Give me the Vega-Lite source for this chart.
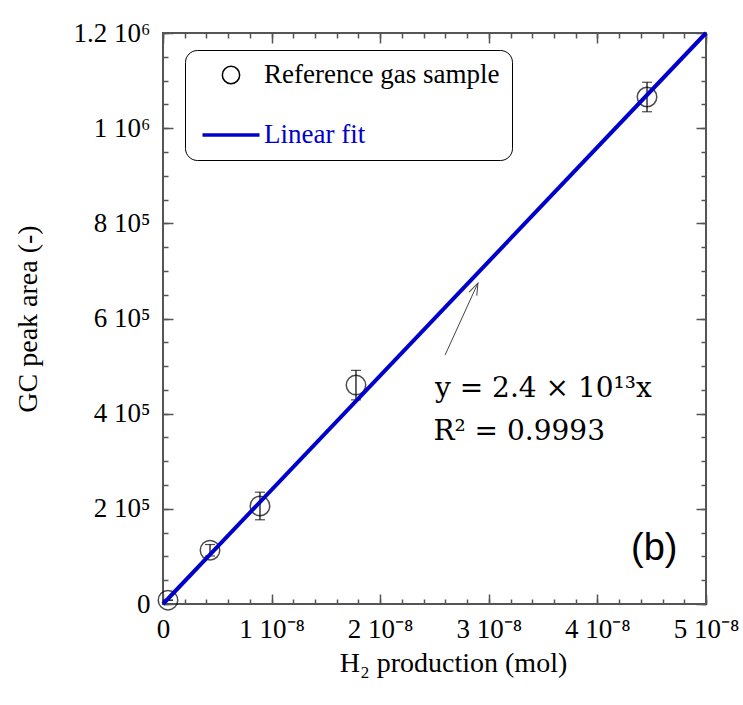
{
  "$schema": "https://vega.github.io/schema/vega-lite/v6.json",
  "width": 543,
  "height": 571,
  "autosize": {"type": "none"},
  "padding": {"left": 163, "top": 33, "right": 37, "bottom": 101},
  "background": "white",
  "config": {
    "view": {"stroke": "#555555", "strokeWidth": 2},
    "axis": {"grid": false, "domain": false, "tickColor": "#555555", "tickWidth": 1.5, "labelColor": "black", "titleColor": "black", "labelFont": "Liberation Serif", "titleFont": "Liberation Serif", "titleFontWeight": "normal"},
    "legend": {
      "orient": "none",
      "legendX": 22,
      "legendY": 17,
      "fillColor": "white",
      "strokeColor": "black",
      "cornerRadius": 12,
      "padding": 12,
      "clipHeight": 26,
      "rowPadding": 33,
      "labelFont": "Liberation Serif",
      "labelFontSize": 27,
      "labelLimit": 400,
      "labelOffset": 4,
      "symbolOffset": 3
    }
  },
  "datasets": {
    "pts": [
      {"h2": 4.6e-10, "area": 8000, "lo": 8000, "hi": 8000},
      {"h2": 4.33e-9, "area": 113000, "lo": 101000, "hi": 125000},
      {"h2": 8.93e-9, "area": 206000, "lo": 177000, "hi": 235000},
      {"h2": 1.777e-8, "area": 460000, "lo": 429000, "hi": 491000},
      {"h2": 4.457e-8, "area": 1065500, "lo": 1034500, "hi": 1096500}
    ],
    "fit": [
      {"h2": 0, "area": 0},
      {"h2": 5e-8, "area": 1200000}
    ],
    "arrow": [
      {"h2": 2.597e-8, "area": 523000},
      {"h2": 2.9e-8, "area": 674600}
    ],
    "tip": [
      {"h2": 2.9e-8, "area": 674600}
    ],
    "eq": [
      {"h2": 2.505e-8, "area": 435000, "label": "y = 2.4 × 10¹³x"},
      {"h2": 2.49e-8, "area": 344600, "label": "R² = 0.9993"}
    ],
    "tag": [
      {"h2": 4.31e-8, "area": 92500, "label": "(b)"}
    ]
  },
  "resolve": {"axis": {"x": "independent", "y": "independent"}},
  "layer": [
    {
      "data": {"name": "pts"},
      "mark": {"type": "rule", "color": "black", "strokeWidth": 1.2},
      "encoding": {
        "x": {"field": "h2", "type": "quantitative", "scale": {"domain": [0, 5e-8], "nice": false}, "axis": {"orient": "bottom", "values": [0, 1e-8, 2e-8, 3e-8, 4e-8, 5e-8], "tickSize": -10, "labelExpr": "datum.value == 0 ? '0' : round(datum.value * 100000000) + ' 10⁻⁸'", "labelFontSize": 27, "labelPadding": 22, "title": "H₂ production (mol)", "titleFontSize": 28, "titlePadding": 7, "titleX": 290, "labelFlush": false, "labelOverlap": false}},
        "y": {"field": "lo", "type": "quantitative", "scale": {"domain": [0, 1200000], "nice": false}, "axis": {"orient": "left", "values": [0, 200000, 400000, 600000, 800000, 1000000, 1200000], "tickSize": -10, "labelExpr": "datum.value == 0 ? '0' : datum.value >= 1000000 ? (datum.value / 1000000) + ' 10⁶' : (datum.value / 100000) + ' 10⁵'", "labelFontSize": 27, "labelPadding": 23, "title": "GC peak area (-)", "titleFontSize": 28, "titlePadding": 31, "labelFlush": false, "labelOverlap": false}},
        "y2": {"field": "hi"}
      }
    },
    {
      "data": {"name": "pts"},
      "mark": {"type": "tick", "orient": "horizontal", "color": "black", "size": 10, "thickness": 1.2},
      "encoding": {
        "x": {"field": "h2", "type": "quantitative", "axis": {"orient": "bottom", "values": [0, 2e-9, 4e-9, 6e-9, 8e-9, 1e-8, 1.2e-8, 1.4e-8, 1.6e-8, 1.8e-8, 2e-8, 2.2e-8, 2.4e-8, 2.6e-8, 2.8e-8, 3e-8, 3.2e-8, 3.4e-8, 3.6e-8, 3.8e-8, 4e-8, 4.2e-8, 4.4e-8, 4.6e-8, 4.8e-8, 5e-8], "tickSize": -5, "labels": false, "title": null}},
        "y": {"field": "lo", "type": "quantitative", "axis": {"orient": "left", "values": [0, 50000, 100000, 150000, 200000, 250000, 300000, 350000, 400000, 450000, 500000, 550000, 600000, 650000, 700000, 750000, 800000, 850000, 900000, 950000, 1000000, 1050000, 1100000, 1150000, 1200000], "tickSize": -5, "labels": false, "title": null}}
      }
    },
    {
      "data": {"name": "pts"},
      "mark": {"type": "tick", "orient": "horizontal", "color": "black", "size": 10, "thickness": 1.2},
      "encoding": {
        "x": {"field": "h2", "type": "quantitative", "axis": {"orient": "top", "values": [0, 1e-8, 2e-8, 3e-8, 4e-8, 5e-8], "tickSize": -10, "labels": false, "title": null}},
        "y": {"field": "hi", "type": "quantitative", "axis": {"orient": "right", "values": [0, 200000, 400000, 600000, 800000, 1000000, 1200000], "tickSize": -10, "labels": false, "title": null}}
      }
    },
    {
      "data": {"name": "pts"},
      "mark": {"type": "point", "shape": "circle", "filled": false, "size": 380, "strokeWidth": 1.5},
      "encoding": {
        "x": {"field": "h2", "type": "quantitative", "axis": {"orient": "top", "values": [0, 2e-9, 4e-9, 6e-9, 8e-9, 1e-8, 1.2e-8, 1.4e-8, 1.6e-8, 1.8e-8, 2e-8, 2.2e-8, 2.4e-8, 2.6e-8, 2.8e-8, 3e-8, 3.2e-8, 3.4e-8, 3.6e-8, 3.8e-8, 4e-8, 4.2e-8, 4.4e-8, 4.6e-8, 4.8e-8, 5e-8], "tickSize": -5, "labels": false, "title": null}},
        "y": {"field": "area", "type": "quantitative", "axis": {"orient": "right", "values": [0, 50000, 100000, 150000, 200000, 250000, 300000, 350000, 400000, 450000, 500000, 550000, 600000, 650000, 700000, 750000, 800000, 850000, 900000, 950000, 1000000, 1050000, 1100000, 1150000, 1200000], "tickSize": -5, "labels": false, "title": null}},
        "color": {
          "datum": "Reference gas sample",
          "scale": {"domain": ["Reference gas sample", "Linear fit"], "range": ["black", "#0000cc"]},
          "legend": {
            "title": null,
            "encode": {
              "symbols": {"update": {
                "x": {"value": 34},
                "shape": {"signal": "datum.value === 'Linear fit' ? 'stroke' : 'circle'"},
                "size": {"signal": "datum.value === 'Linear fit' ? 3249 : 300"},
                "stroke": {"signal": "datum.value === 'Linear fit' ? '#0000cc' : 'black'"},
                "strokeWidth": {"signal": "datum.value === 'Linear fit' ? 3.5 : 1.5"},
                "fill": {"value": "transparent"},
                "opacity": {"value": 1}
              }},
              "labels": {"update": {
                "x": {"value": 67},
                "fill": {"signal": "datum.value === 'Linear fit' ? '#0000cc' : 'black'"}
              }}
            }
          }
        }
      }
    },
    {
      "data": {"name": "fit"},
      "mark": {"type": "line", "strokeWidth": 4},
      "encoding": {
        "x": {"field": "h2", "type": "quantitative", "axis": null},
        "y": {"field": "area", "type": "quantitative", "axis": null},
        "color": {
          "datum": "Linear fit",
          "legend": {
            "title": null,
            "encode": {
              "symbols": {"update": {
                "x": {"value": 34},
                "shape": {"signal": "datum.value === 'Linear fit' ? 'stroke' : 'circle'"},
                "size": {"signal": "datum.value === 'Linear fit' ? 3249 : 300"},
                "stroke": {"signal": "datum.value === 'Linear fit' ? '#0000cc' : 'black'"},
                "strokeWidth": {"signal": "datum.value === 'Linear fit' ? 3.5 : 1.5"},
                "fill": {"value": "transparent"},
                "opacity": {"value": 1}
              }},
              "labels": {"update": {
                "x": {"value": 67},
                "fill": {"signal": "datum.value === 'Linear fit' ? '#0000cc' : 'black'"}
              }}
            }
          }
        }
      }
    },
    {
      "data": {"name": "arrow"},
      "mark": {"type": "line", "color": "#444444", "strokeWidth": 1},
      "encoding": {
        "x": {"field": "h2", "type": "quantitative", "axis": null},
        "y": {"field": "area", "type": "quantitative", "axis": null}
      }
    },
    {
      "data": {"name": "tip"},
      "mark": {"type": "point", "shape": "M -0.35 1 L 0 0 L 0.35 1", "filled": false, "size": 576, "angle": 24.6, "color": "#444444", "strokeWidth": 1, "opacity": 1},
      "encoding": {
        "x": {"field": "h2", "type": "quantitative", "axis": null},
        "y": {"field": "area", "type": "quantitative", "axis": null}
      }
    },
    {
      "data": {"name": "eq"},
      "mark": {"type": "text", "font": "DejaVu Serif", "fontSize": 28, "align": "left", "baseline": "alphabetic", "color": "black"},
      "encoding": {
        "x": {"field": "h2", "type": "quantitative", "axis": null},
        "y": {"field": "area", "type": "quantitative", "axis": null},
        "text": {"field": "label"}
      }
    },
    {
      "data": {"name": "tag"},
      "mark": {"type": "text", "font": "Liberation Sans", "fontSize": 38, "align": "left", "baseline": "alphabetic", "color": "black"},
      "encoding": {
        "x": {"field": "h2", "type": "quantitative", "axis": null},
        "y": {"field": "area", "type": "quantitative", "axis": null},
        "text": {"field": "label"}
      }
    }
  ]
}
